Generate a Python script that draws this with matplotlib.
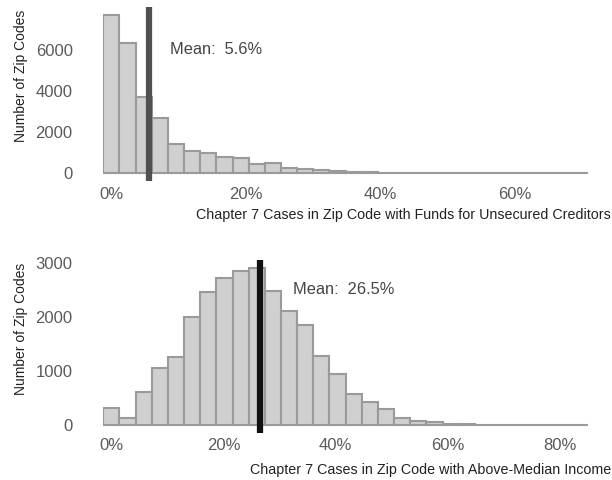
import numpy as np
import matplotlib
matplotlib.use("Agg")
import matplotlib.pyplot as plt
from matplotlib.ticker import FuncFormatter

# histogram counts, 30 bins each (first bin centred on 0%)
funds_width = 2.4
funds_counts = [7700, 6320, 3730, 2690, 1440, 1070, 975, 780, 745, 455,
                485, 255, 195, 150, 90, 60, 40, 30, 20, 15,
                10, 8, 6, 5, 4, 3, 2, 1, 1, 1]
funds_mean = 5.6

income_width = 2.88
income_counts = [310, 125, 605, 1060, 1265, 1995, 2470, 2730, 2850, 2910,
                 2490, 2115, 1850, 1280, 945, 575, 418, 290, 124, 82,
                 50, 25, 12, 6, 4, 3, 2, 1, 1, 1]
income_mean = 26.5

funds_label = "Chapter 7 Cases in Zip Code with Funds for Unsecured Creditors"
income_label = "Chapter 7 Cases in Zip Code with Above-Median Income"
ylab = "Number of Zip Codes"

plt.rcParams['font.family'] = ['Liberation Sans', 'DejaVu Sans']

W, H = 612, 480
fig = plt.figure(figsize=(W / 100, H / 100), dpi=100)

def px_axes(left, top, right, bottom):
    return fig.add_axes([left / W, 1 - bottom / H, (right - left) / W, (bottom - top) / H])

def panel(ax, counts, width, mean, ylim, yticks, xticks, line_color):
    counts = np.array(counts)
    centers = np.arange(len(counts)) * width
    ax.bar(centers, counts, width=width, color='#d0d0d0', edgecolor='#9a9a9a', linewidth=1.5)
    ax.axvline(mean, color=line_color, linewidth=4.5)
    ax.set_xlim(-width / 2, (len(counts) - 0.5) * width)
    ax.set_ylim(*ylim)
    ax.set_yticks(yticks)
    ax.set_xticks(xticks)
    ax.xaxis.set_major_formatter(FuncFormatter(lambda v, p: "%d%%" % v))
    for s in ax.spines.values():
        s.set_visible(False)
    ax.tick_params(length=0, labelsize=12, labelcolor='#5a5a5a')
    ax.tick_params(axis='y', pad=22)
    ax.tick_params(axis='x', pad=4)
    ax.patch.set_alpha(0)

ax1 = px_axes(103.3, 7.2, 588, 181.2)
panel(ax1, funds_counts, funds_width, funds_mean, (-385, 8085),
      [0, 2000, 4000, 6000], [0, 20, 40, 60], '#505050')
ax1.text(170 / W, 1 - 50 / H, "Mean:  %.1f%%" % funds_mean, transform=fig.transFigure,
         fontsize=11.8, color='#444444', va='center', ha='left')

ax2 = px_axes(103.3, 260.3, 588, 432.8)
panel(ax2, income_counts, income_width, income_mean, (-145.5, 3055.5),
      [0, 1000, 2000, 3000], [0, 20, 40, 60, 80], '#111111')
ax2.text(293 / W, 1 - 290 / H, "Mean:  %.1f%%" % income_mean, transform=fig.transFigure,
         fontsize=11.8, color='#444444', va='center', ha='left')

fig.text(611 / W, 1 - 215 / H, funds_label, ha='right', va='center', fontsize=10.3, color='#222222')
fig.text(611 / W, 1 - 470 / H, income_label, ha='right', va='center', fontsize=10.3, color='#222222')
fig.text(21 / W, 1 - 76 / H, ylab, rotation=90, ha='center', va='center', fontsize=10, color='#222222')
fig.text(21 / W, 1 - 329 / H, ylab, rotation=90, ha='center', va='center', fontsize=10, color='#222222')

fig.savefig("out.png", dpi=100, facecolor='white')
